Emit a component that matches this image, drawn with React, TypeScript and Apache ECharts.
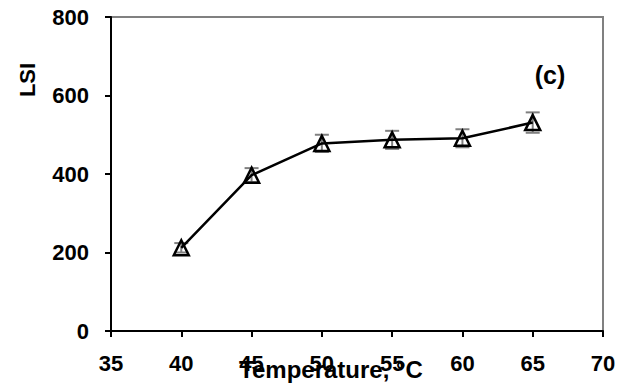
import React, { useEffect, useRef } from "react";
import * as echarts from "echarts";

const temperatures = [40, 45, 50, 55, 60, 65];
const lsiValues = [212, 397, 478, 487, 491, 531];
const lsiErrors = [12, 18, 22, 23, 23, 26];
const xTicks = { min: 35, max: 70, interval: 5 };
const yTicks = { min: 0, max: 800, interval: 200 };
const xTitle = "Temperature, °C";
const yTitle = "LSI";
const panelLabel = "(c)";

const FONT = "'Liberation Sans', Arial, sans-serif";

export default function App() {
  const ref = useRef<HTMLDivElement>(null);
  useEffect(() => {
    if (!ref.current) return;
    const chart = echarts.init(ref.current, undefined, { renderer: "svg" });
    const lineData = temperatures.map((t, i) => [t, lsiValues[i]]);
    const errData = temperatures.map((t, i) => [t, lsiValues[i] - lsiErrors[i], lsiValues[i] + lsiErrors[i]]);
    chart.setOption({
      animation: false,
      backgroundColor: "#fff",
      grid: {
        left: 111,
        right: 17,
        top: 17,
        bottom: 61,
        show: true,
        borderColor: "#808080",
        borderWidth: 2,
        backgroundColor: "transparent",
      },
      xAxis: {
        type: "value",
        min: xTicks.min,
        max: xTicks.max,
        interval: xTicks.interval,
        axisLine: { show: true, onZero: false, lineStyle: { color: "#000", width: 2 } },
        axisTick: { show: true, inside: false, length: 6, lineStyle: { color: "#000", width: 2 } },
        axisLabel: { margin: 21, color: "#000", fontSize: 22, fontWeight: "bold", fontFamily: FONT },
        splitLine: { show: false },
      },
      yAxis: {
        type: "value",
        min: yTicks.min,
        max: yTicks.max,
        interval: yTicks.interval,
        axisLine: { show: true, onZero: false, lineStyle: { color: "#000", width: 2 } },
        axisTick: { show: true, inside: false, length: 6, lineStyle: { color: "#000", width: 2 } },
        axisLabel: { margin: 22, color: "#000", fontSize: 22, fontWeight: "bold", fontFamily: FONT },
        splitLine: { show: false },
      },
      graphic: [
        {
          type: "text",
          x: 331,
          y: 369,
          z: 100,
          style: {
            text: xTitle,
            fontSize: 24,
            fontWeight: "bold",
            fontFamily: FONT,
            fill: "#000",
            align: "center",
            verticalAlign: "middle",
          },
        },
        {
          type: "text",
          x: 27,
          y: 80,
          rotation: Math.PI / 2,
          style: {
            text: yTitle,
            fontSize: 22,
            fontWeight: "bold",
            fontFamily: FONT,
            fill: "#000",
            align: "center",
            verticalAlign: "middle",
          },
        },
        {
          type: "text",
          x: 550,
          y: 75,
          style: {
            text: panelLabel,
            fontSize: 25,
            fontWeight: "bold",
            fontFamily: FONT,
            fill: "#000",
            align: "center",
            verticalAlign: "middle",
          },
        },
      ],
      series: [
        {
          type: "custom",
          z: 1,
          data: errData,
          renderItem: (params: any, api: any) => {
            const x = api.value(0);
            const lo = api.coord([x, api.value(1)]);
            const hi = api.coord([x, api.value(2)]);
            const half = 7;
            const style = { stroke: "#808080", lineWidth: 2 };
            return {
              type: "group",
              children: [
                { type: "line", shape: { x1: lo[0], y1: lo[1], x2: hi[0], y2: hi[1] }, style },
                { type: "line", shape: { x1: hi[0] - half, y1: hi[1], x2: hi[0] + half, y2: hi[1] }, style },
                { type: "line", shape: { x1: lo[0] - half, y1: lo[1], x2: lo[0] + half, y2: lo[1] }, style },
              ],
            };
          },
        },
        {
          type: "line",
          z: 5,
          data: lineData,
          symbol: "triangle",
          symbolSize: [15, 15],
          lineStyle: { color: "#000", width: 2.5 },
          itemStyle: { color: "rgba(255,255,255,0)", borderColor: "#000", borderWidth: 2.5 },
        },
      ],
    });
    return () => chart.dispose();
  }, []);
  return <div ref={ref} style={{ width: 620, height: 392, position: "absolute", left: 0, top: 0 }} />;
}
